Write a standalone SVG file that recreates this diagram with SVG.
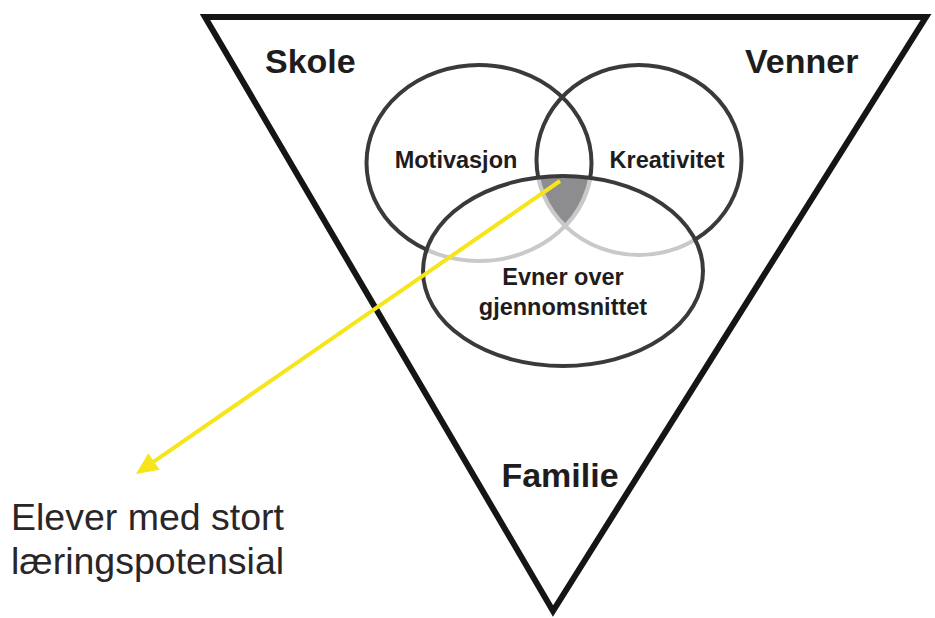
<svg xmlns="http://www.w3.org/2000/svg" width="935" height="618" viewBox="0 0 935 618">
<style>
.big{font-family:"Liberation Sans",Arial,sans-serif;font-weight:bold;font-size:34px;fill:#1e1c1d}
.mid{font-family:"Liberation Sans",Arial,sans-serif;font-weight:bold;font-size:23.5px;fill:#1e1c1d}
.cap{font-family:"Liberation Sans",Arial,sans-serif;font-size:37.5px;fill:#2a2627}
.ring{fill:none;stroke:#3a3a3a;stroke-width:4}
.faint{fill:none;stroke:#c9c9c9;stroke-width:4}
</style>
<defs>
<clipPath id="cM"><ellipse cx="479" cy="163" rx="112.5" ry="98"/></clipPath>
<clipPath id="cK"><ellipse cx="639" cy="160" rx="102.5" ry="95"/></clipPath>
<clipPath id="cE"><ellipse cx="563" cy="271" rx="140" ry="95"/></clipPath>
<marker id="ah" markerUnits="userSpaceOnUse" markerWidth="24" markerHeight="20" refX="2" refY="10" orient="auto">
<path d="M0,0 L22,10 L0,20 z" fill="#f6e51a"/>
</marker>
</defs>
<rect width="935" height="618" fill="#ffffff"/>
<g id="triangle">
<polygon points="205,17 926,17 553,611" fill="#ffffff" stroke="#151515" stroke-width="6"/>
<text class="big" x="265" y="73">Skole</text>
<text class="big" x="745" y="73">Venner</text>
<text class="big" x="560" y="487" text-anchor="middle">Familie</text>
</g>
<g id="motivasjon">
<ellipse class="ring" cx="479" cy="163" rx="112.5" ry="98"/>
<text class="mid" x="456" y="168" text-anchor="middle">Motivasjon</text>
</g>
<g id="kreativitet">
<ellipse class="ring" cx="639" cy="160" rx="102.5" ry="95"/>
<text class="mid" x="667" y="168" text-anchor="middle">Kreativitet</text>
</g>
<g id="evner">
<ellipse cx="563" cy="271" rx="140" ry="95" fill="#ffffff"/>
<g clip-path="url(#cE)">
<ellipse class="faint" cx="479" cy="163" rx="112.5" ry="98"/>
<ellipse class="faint" cx="639" cy="160" rx="102.5" ry="95"/>
</g>
<g clip-path="url(#cK)"><g clip-path="url(#cM)">
<ellipse cx="563" cy="271" rx="140" ry="95" fill="#8d8d90"/>
</g></g>
<g clip-path="url(#cE)">
<g clip-path="url(#cK)"><ellipse class="faint" cx="479" cy="163" rx="112.5" ry="98" stroke-width="2"/></g>
<g clip-path="url(#cM)"><ellipse class="faint" cx="639" cy="160" rx="102.5" ry="95" stroke-width="2"/></g>
</g>
<ellipse class="ring" cx="563" cy="271" rx="140" ry="95"/>
<text class="mid" x="563" y="285" text-anchor="middle">Evner over</text>
<text class="mid" x="563" y="315" text-anchor="middle">gjennomsnittet</text>
</g>
<g id="connectors">
<line x1="560" y1="181" x2="152.4" y2="462.6" stroke="#f6e51a" stroke-width="4" marker-end="url(#ah)"/>
</g>
<g id="caption">
<text class="cap" x="11" y="530">Elever med stort</text>
<text class="cap" x="11" y="574">læringspotensial</text>
</g>
</svg>
